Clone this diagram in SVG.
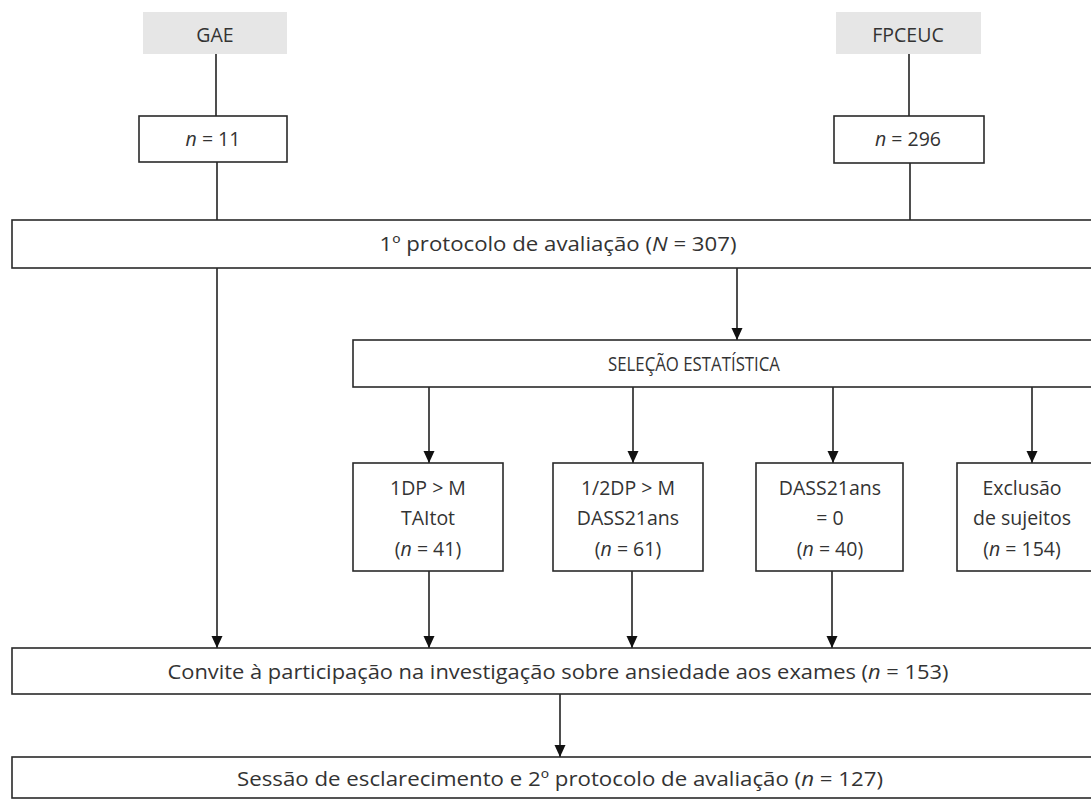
<svg xmlns="http://www.w3.org/2000/svg" width="1091" height="800" viewBox="0 0 1091 800">
<defs>
<style>
.box{fill:#fff;stroke:#2a2a2a;stroke-width:1.6}
.src{fill:#e6e6e6;stroke:none}
.t{font-family:"Open Sans",Lato,"Liberation Sans",sans-serif;font-size:19.5px;fill:#333;text-anchor:middle}
.c{stroke:#222;stroke-width:1.6;fill:none}
.i{font-style:italic}
</style>
<marker id="ah" markerUnits="userSpaceOnUse" markerWidth="12" markerHeight="12" viewBox="0 0 12 12" refX="12" refY="6" orient="auto">
<path d="M0,0.5 L12,6 L0,11.5 z" fill="#111"/>
</marker>
</defs>
<rect width="1091" height="800" fill="#fff"/>
<g id="connectors">
<line class="c" x1="216" y1="54" x2="216" y2="116"/>
<line class="c" x1="909" y1="54" x2="909" y2="116"/>
<line class="c" x1="217" y1="162" x2="217" y2="220"/>
<line class="c" x1="910" y1="163" x2="910" y2="220"/>
<line class="c" x1="217" y1="268" x2="217" y2="648" marker-end="url(#ah)"/>
<line class="c" x1="737" y1="268" x2="737" y2="340" marker-end="url(#ah)"/>
<line class="c" x1="429" y1="387" x2="429" y2="463" marker-end="url(#ah)"/>
<line class="c" x1="633" y1="387" x2="633" y2="463" marker-end="url(#ah)"/>
<line class="c" x1="833" y1="387" x2="833" y2="463" marker-end="url(#ah)"/>
<line class="c" x1="1032" y1="387" x2="1032" y2="463" marker-end="url(#ah)"/>
<line class="c" x1="429" y1="571" x2="429" y2="648" marker-end="url(#ah)"/>
<line class="c" x1="632" y1="571" x2="632" y2="648" marker-end="url(#ah)"/>
<line class="c" x1="832" y1="571" x2="832" y2="648" marker-end="url(#ah)"/>
<line class="c" x1="560" y1="694" x2="560" y2="757" marker-end="url(#ah)"/>
</g>
<g id="gae"><rect class="src" x="143" y="12" width="144" height="42"/><text class="t" x="215" y="42">GAE</text></g>
<g id="fpceuc"><rect class="src" x="836" y="12" width="145" height="42"/><text class="t" x="908" y="42">FPCEUC</text></g>
<g id="n11"><rect class="box" x="139" y="116" width="148" height="46"/><text class="t" x="213" y="146"><tspan class="i">n</tspan> = 11</text></g>
<g id="n296"><rect class="box" x="834" y="116" width="150" height="47"/><text class="t" x="908" y="146"><tspan class="i">n</tspan> = 296</text></g>
<g id="protocolo1"><rect class="box" x="12" y="220" width="1090" height="48"/><text class="t" x="558" y="251" textLength="357" lengthAdjust="spacingAndGlyphs">1º protocolo de avaliação (<tspan class="i">N</tspan> = 307)</text></g>
<g id="selecao"><rect class="box" x="353" y="340" width="750" height="47"/><text class="t" x="694" y="371" textLength="172" lengthAdjust="spacingAndGlyphs">SELEÇÃO ESTATÍSTICA</text></g>
<g id="dp1"><rect class="box" x="353" y="463" width="150" height="108"/>
<text class="t" x="428" y="495">1DP &gt; M</text><text class="t" x="428" y="525">TAItot</text><text class="t" x="428" y="556">(<tspan class="i">n</tspan> = 41)</text></g>
<g id="dp2"><rect class="box" x="553" y="463" width="150" height="108"/>
<text class="t" x="628" y="495">1/2DP &gt; M</text><text class="t" x="628" y="525">DASS21ans</text><text class="t" x="628" y="556">(<tspan class="i">n</tspan> = 61)</text></g>
<g id="dass0"><rect class="box" x="756" y="463" width="147" height="108"/>
<text class="t" x="830" y="495">DASS21ans</text><text class="t" x="830" y="525">= 0</text><text class="t" x="830" y="556">(<tspan class="i">n</tspan> = 40)</text></g>
<g id="exclusao"><rect class="box" x="957" y="463" width="150" height="108"/>
<text class="t" x="1022" y="495">Exclusão</text><text class="t" x="1022" y="525">de sujeitos</text><text class="t" x="1022" y="556">(<tspan class="i">n</tspan> = 154)</text></g>
<g id="convite"><rect class="box" x="12" y="648" width="1090" height="46"/><text class="t" x="558" y="679" textLength="781" lengthAdjust="spacingAndGlyphs">Convite à participação na investigação sobre ansiedade aos exames (<tspan class="i">n</tspan> = 153)</text></g>
<g id="sessao"><rect class="box" x="12" y="757" width="1090" height="41"/><text class="t" x="560" y="786" textLength="646" lengthAdjust="spacingAndGlyphs">Sessão de esclarecimento e 2º protocolo de avaliação (<tspan class="i">n</tspan> = 127)</text></g>
</svg>
